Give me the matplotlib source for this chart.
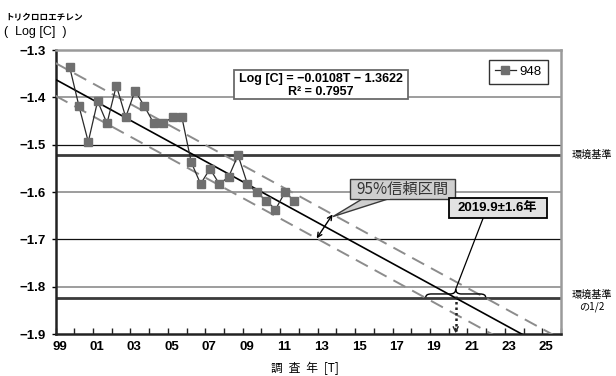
import numpy as np
import matplotlib
matplotlib.use("Agg")
import matplotlib.pyplot as plt
from matplotlib.patches import Rectangle, Polygon, PathPatch
from matplotlib.path import Path
from matplotlib.lines import Line2D
import matplotlib.transforms as mtransforms

# ---- data -------------------------------------------------------------
# survey time T (half-year steps) and measured log concentration
survey_t = [1.5, 2.5, 3.5, 4.5, 5.5, 6.5, 7.5, 8.5, 9.5, 10.5, 11.5, 12.5,
            13.5, 14.5, 15.5, 16.5, 17.5, 18.5, 19.5, 20.5, 21.5, 22.5,
            23.5, 24.5, 25.5]
log_c = [-1.335, -1.418, -1.494, -1.408, -1.455, -1.375, -1.442, -1.386,
         -1.419, -1.455, -1.455, -1.442, -1.442, -1.537, -1.583, -1.551,
         -1.583, -1.568, -1.522, -1.583, -1.601, -1.618, -1.637, -1.601,
         -1.618]
series_name = "948"

# regression: Log[C] = slope*T + intercept
slope = -0.0108
intercept = -1.3622
r_squared = 0.7957

# environmental standard (0.03 mg/L) and half of it, in log10
env_std = np.log10(0.03)
env_half = np.log10(0.015)

# predicted year when the half standard is reached
pred_year = 2019.9
pred_err_years = 1.6

year_labels = ["99", "01", "03", "05", "07", "09", "11", "13", "15", "17",
               "19", "21", "23", "25"]
y_ticks = [-1.3, -1.4, -1.5, -1.6, -1.7, -1.8, -1.9]

# ---- fonts ------------------------------------------------------------
JP = ["Noto Sans CJK JP", "DejaVu Sans"]
NUM = ["Liberation Sans", "Noto Sans CJK JP", "DejaVu Sans"]

fig = plt.figure(figsize=(6.16, 3.76), dpi=100)
ax = fig.add_axes([55.5 / 616, 1 - 334 / 376, (561 - 55.5) / 616, 284 / 376])

t_max = 54
ax.set_xlim(0, t_max)
ax.set_ylim(-1.9, -1.3)

# horizontal grid: grey at -1.4/-1.6/-1.8, thin black at -1.5/-1.7
for y in (-1.4, -1.6, -1.8):
    ax.axhline(y, color="#8c8c8c", lw=1.2, zorder=1)
for y in (-1.5, -1.7):
    ax.axhline(y, color="#111111", lw=0.9, zorder=1)

# standard lines
ax.axhline(env_std, color="#3a3a3a", lw=2.0, zorder=2)
ax.axhline(env_half, color="#3a3a3a", lw=2.0, zorder=2)

# regression line and confidence band
tt = np.array([0, t_max])
fit = slope * tt + intercept
half_width = pred_err_years * 2 * abs(slope)
ax.plot(tt, fit, color="black", lw=1.2, zorder=3)
ax.plot(tt, fit + half_width, color="#8c8c8c", lw=1.4, dashes=(7, 4), zorder=3)
ax.plot(tt, fit - half_width, color="#8c8c8c", lw=1.4, dashes=(7, 4), zorder=3)

# measured series
ax.plot(survey_t, log_c, color="#2a2a2a", lw=0.9, marker="s", ms=6.2,
        mfc="#6f6f6f", mec="#6f6f6f", zorder=4)

# spines
for side in ("left", "bottom"):
    ax.spines[side].set_color("#222222")
    ax.spines[side].set_linewidth(1.8)
for side in ("top", "right"):
    ax.spines[side].set_color("#9a9a9a")
    ax.spines[side].set_linewidth(1.8)

# ticks
ax.set_yticks(y_ticks)
ax.set_yticklabels([f"\u2212{abs(v):.1f}" for v in y_ticks],
                   fontfamily=NUM, fontweight="bold", fontsize=9.5)
ax.tick_params(axis="y", direction="out", length=3, width=1, pad=4)

major_t = np.arange(0, t_max, 4)
ax.set_xticks(major_t)
ax.set_xticks(np.arange(2, t_max + 1, 4), minor=True)
ax.set_xticklabels(year_labels, fontfamily=NUM, fontweight="bold", fontsize=9.5)
ax.tick_params(axis="x", which="both", direction="in", length=4, width=1,
               pad=5, color="#222222")
shift = mtransforms.ScaledTranslation(4 / 100, 0, fig.dpi_scale_trans)
for lbl in ax.get_xticklabels():
    lbl.set_transform(lbl.get_transform() + shift)

# axis titles
fig.text(5 / 616, 1 - 18 / 376, "トリクロロエチレン", fontfamily=JP,
         fontsize=6.2, fontweight="bold", va="center", ha="left")
fig.text(4 / 616, 1 - 32.5 / 376, "(  Log [C]  )", fontfamily=NUM,
         fontsize=9, va="center", ha="left")
fig.text(305 / 616, 1 - 368 / 376, "調\u2002査\u2002年\u2002[T]", fontfamily=JP,
         fontsize=8.5, va="center", ha="center")

# standard labels on the right
fig.text(591.5 / 616, 1 - 155 / 376, "環境基準", fontfamily=JP, fontsize=7.3,
         va="center", ha="center")
fig.text(591.5 / 616, 1 - 301 / 376, "環境基準\nの1/2", fontfamily=JP,
         fontsize=7.3, va="center", ha="center", linespacing=1.25)

# regression equation box
ax.add_patch(Rectangle((0.354, 0.827), 0.343, 0.103, transform=ax.transAxes,
                       facecolor="white", edgecolor="#6a6a6a", lw=1.3,
                       zorder=6))
ax.text(0.5255, 0.897, f"Log [C] = \u2212{abs(slope):.4f}T \u2212 {abs(intercept):.4f}",
        transform=ax.transAxes, ha="center", va="center", fontfamily=NUM,
        fontweight="bold", fontsize=9, zorder=7)
ax.text(0.5255, 0.851, f"R\u00b2 = {r_squared:.4f}", transform=ax.transAxes,
        ha="center", va="center", fontfamily=NUM, fontweight="bold",
        fontsize=9, zorder=7)

# legend
handle = Line2D([], [], color="#2a2a2a", lw=0.9, marker="s", ms=6.2,
                mfc="#6f6f6f", mec="#6f6f6f")
leg = ax.legend([handle], [series_name], loc="upper right",
                bbox_to_anchor=(0.974, 0.965), borderaxespad=0, frameon=True,
                fancybox=False, edgecolor="black", handlelength=1.6,
                handletextpad=0.3, borderpad=0.45,
                prop={"family": NUM, "size": 9.5})
leg.get_frame().set_linewidth(1.0)
leg.set_zorder(8)

# 95% band callout with double arrow
t_up, t_lo = 29.6, 27.9
ax.annotate("", xy=(t_up, slope * t_up + intercept + half_width),
            xytext=(t_lo, slope * t_lo + intercept - half_width),
            arrowprops=dict(arrowstyle="<->", color="black", lw=1.0,
                            shrinkA=0, shrinkB=0, mutation_scale=8),
            zorder=6)
box_l, box_r, box_t, box_b = 31.5, 42.7, -1.5726, -1.6155
ax.add_patch(Polygon([(32.7, box_b), (35.4, box_b),
                      (29.65, slope * 29.65 + intercept + half_width - 0.004)],
                     closed=True, facecolor="#cfcfcf", edgecolor="#3a3a3a",
                     lw=1.0, zorder=6))
ax.add_patch(Rectangle((box_l, box_b), box_r - box_l, box_t - box_b,
                       facecolor="#cfcfcf", edgecolor="#3a3a3a", lw=1.0,
                       zorder=6))
ax.add_patch(Rectangle((32.5, box_b + 0.0015), 3.2, 0.004,
                       facecolor="#cfcfcf", edgecolor="none", zorder=6.5))
ax.text((box_l + box_r) / 2, (box_t + box_b) / 2, "95%信頼区間",
        fontfamily=JP, fontsize=11, color="#333333", ha="center",
        va="center", zorder=7)

# predicted year: brace, leader and dotted arrow
t_c = (env_half - intercept) / slope
t_w = pred_err_years * 2
y_end, y_flat, y_peak = env_half + 0.0015, env_half + 0.0085, env_half + 0.0185
dt = 0.6
verts = [(t_c - t_w, y_end), (t_c - t_w, y_flat), (t_c - t_w + dt, y_flat),
         (t_c - dt, y_flat), (t_c, y_flat), (t_c, y_peak),
         (t_c, y_flat), (t_c + dt, y_flat),
         (t_c + t_w - dt, y_flat), (t_c + t_w, y_flat), (t_c + t_w, y_end)]
codes = [Path.MOVETO, Path.CURVE3, Path.CURVE3, Path.LINETO, Path.CURVE3,
         Path.CURVE3, Path.CURVE3, Path.CURVE3, Path.LINETO, Path.CURVE3,
         Path.CURVE3]
ax.add_patch(PathPatch(Path(verts, codes), facecolor="none",
                       edgecolor="black", lw=1.0, zorder=6))

ax.plot([t_c, t_c], [env_half + 0.004, -1.893], color="#222222", lw=1.8,
        dashes=(1, 1.2), zorder=6)
ax.annotate("", xy=(t_c, -1.8985), xytext=(t_c, -1.888),
            arrowprops=dict(arrowstyle="->", color="#222222", lw=1.0,
                            shrinkA=0, shrinkB=0, mutation_scale=9),
            zorder=6)

pb_l, pb_r, pb_t, pb_b = 42.0, 52.5, -1.6135, -1.6543
ax.plot([45.7, t_c], [pb_b, y_peak], color="black", lw=0.9, zorder=6)
ax.add_patch(Rectangle((pb_l, pb_b), pb_r - pb_l, pb_t - pb_b,
                       facecolor="#e2e2e2", edgecolor="black", lw=1.3,
                       zorder=6))
ax.text((pb_l + pb_r) / 2, (pb_t + pb_b) / 2,
        f"{pred_year:.1f}\u00b1{pred_err_years:.1f}年", fontfamily=NUM,
        fontweight="bold", fontsize=9.5, ha="center", va="center", zorder=7)

fig.savefig("out.png", dpi=100)
